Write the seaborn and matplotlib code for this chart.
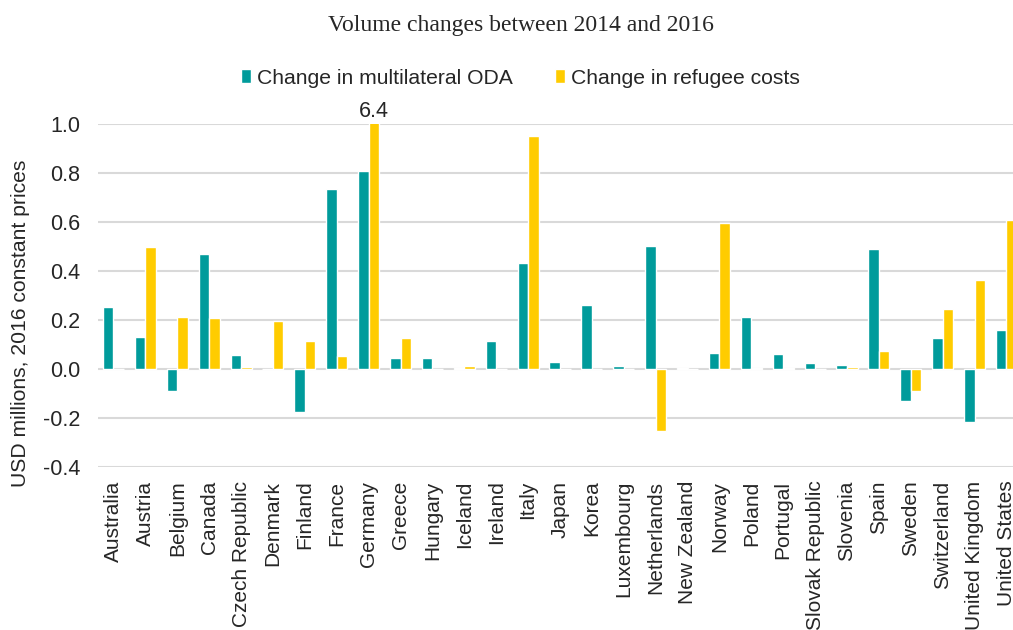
import pandas as pd
import matplotlib.pyplot as plt
import seaborn as sns

# Datos
countries = ["Australia", "Austria", "Belgium", "Canada", "Czech Republic", "Denmark",
             "Finland", "France", "Germany", "Greece", "Hungary", "Iceland", "Ireland",
             "Italy", "Japan", "Korea", "Luxembourg", "Netherlands", "New Zealand",
             "Norway", "Poland", "Portugal", "Slovak Republic", "Slovenia", "Spain",
             "Sweden", "Switzerland", "United Kingdom", "United States"]
multilateral_oda = [0.252, 0.132, -0.090, 0.469, 0.057, -0.002, -0.177, 0.736, 0.811, 0.044,
                    0.046, 0.005, 0.114, 0.432, 0.027, 0.260, 0.012, 0.501, 0.004,
                    0.065, 0.213, 0.059, 0.023, 0.016, 0.490, -0.131, 0.127, -0.218, 0.158]
refugee_costs = [0.0, 0.500, 0.214, 0.208, 0.008, 0.195, 0.114, 0.054, 6.4, 0.127,
                 0.0, 0.012, 0.0, 0.952, 0.0, 0.0, 0.0, -0.253, 0.0,
                 0.598, 0.004, 0.003, 0.0, 0.008, 0.072, -0.090, 0.245, 0.365, 0.608]
series_names = ["Change in multilateral ODA", "Change in refugee costs"]
colors = ["#009B9B", "#FFCC00"]

df = pd.DataFrame({
    "country": countries * 2,
    "series": [series_names[0]] * len(countries) + [series_names[1]] * len(countries),
    "value": multilateral_oda + refugee_costs,
})

sns.set_style("white")
plt.rcParams["font.family"] = ["Liberation Sans", "DejaVu Sans"]

fig = plt.figure(figsize=(10.13, 6.3), dpi=100)
ax = fig.add_axes([0.0963, 0.2592, 0.913, 0.5435])

sns.barplot(data=df, x="country", y="value", hue="series", palette=colors,
            width=0.66, ax=ax, saturation=1, legend=True)

ax.set_ylim(-0.4, 1.0)
ax.set_yticks([-0.4, -0.2, 0.0, 0.2, 0.4, 0.6, 0.8, 1.0])
ax.set_yticklabels([f"{v:.1f}" for v in ax.get_yticks()], fontsize=15.5)
ax.yaxis.grid(True, color="#d9d9d9", linewidth=1.5)
ax.set_axisbelow(True)
for s in ax.spines.values():
    s.set_visible(False)
ax.tick_params(axis="y", length=0, pad=12.5)
ax.tick_params(axis="x", length=0, labelrotation=90, labelsize=15, pad=10)
ax.set_xlabel("")
ax.set_ylabel("USD millions, 2016 constant prices", fontsize=15.2)
ax.yaxis.set_label_coords(-0.073, 0.419)

# Etiqueta de Alemania (barra recortada)
germany_bar = ax.containers[1][countries.index("Germany")]
ax.annotate("6.4", (germany_bar.get_x() + germany_bar.get_width() / 2, 1.0),
            xytext=(0, 5), textcoords="offset points",
            ha="center", va="baseline", fontsize=15.5, annotation_clip=False)

handles, labels = ax.get_legend_handles_labels()
ax.get_legend().remove()
fig.legend(handles, labels, loc="center", bbox_to_anchor=(0.514, 0.876), ncol=2,
           frameon=False, fontsize=15.2, handlelength=0.45, handleheight=0.6,
           handletextpad=0.3, columnspacing=2.0, borderaxespad=0)

fig.suptitle("Volume changes between 2014 and 2016", family="Liberation Serif",
             fontsize=17, x=0.514, y=0.96, va="center")

fig.savefig("out.png", dpi=100)
